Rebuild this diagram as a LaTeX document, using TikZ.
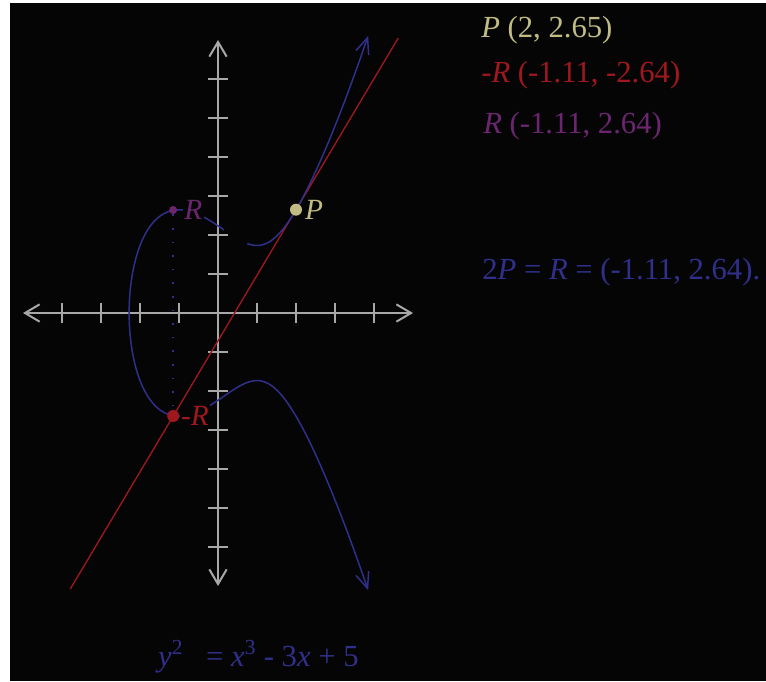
\documentclass[tikz,border=0pt]{standalone}
\usepackage{fontspec}
\setmainfont{Liberation Serif}
\usetikzlibrary{arrows.meta,positioning}

\definecolor{bg}{RGB}{5,5,5}
\definecolor{axisgray}{RGB}{168,168,168}
\definecolor{curveblue}{RGB}{48,48,140}
\definecolor{tanred}{RGB}{158,24,30}
\definecolor{pkhaki}{RGB}{192,188,132}
\definecolor{rpurple}{RGB}{108,38,112}

\tikzset{
	axisline/.style={axisgray, line width=1.5pt
		, {Straight Barb[length=11pt,width=13pt]}-{Straight Barb[length=11pt,width=13pt]}}
	, tickmark/.style={axisgray, line width=1.5pt}
	, ecurve/.style={curveblue, line width=1.1pt}
	, dotpt/.style={circle, fill, inner sep=0pt, minimum size=9pt}
	, info/.style={anchor=west, inner sep=0pt, font=\fontsize{23}{27}\selectfont}
}

\begin{document}
\begin{tikzpicture}[x=29.25pt, y=29.25pt]

\useasboundingbox (-5.590,8.026) rectangle (14.051,-9.436);
\fill[bg] (-5.333,7.949) rectangle (14.051,-9.436);

% axes
\coordinate (xl) at (-5,0);
\coordinate (xr) at (5,0);
\coordinate (yb) at (0,-7);
\coordinate (yt) at (0,7);
\draw[axisline] (xl) -- (xr);
\draw[axisline] (yb) -- (yt);
\foreach \t in {-4,...,-1,1,2,...,4}{
	\draw[tickmark] (\t,-0.26) -- (\t,0.26);
}
\foreach \t in {-6,...,-1,1,2,...,6}{
	\draw[tickmark] (-0.26,\t) -- (0.26,\t);
}

% tangent at P
\coordinate (t1) at (-3.79,-7.08);
\coordinate (t2) at (4.62,7.05);
\draw[tanred, line width=1pt] (t1) -- (t2);

% y^2 = x^3 - 3x + 5
\draw[ecurve, -{Straight Barb[length=12pt,width=10pt]}]
	plot[samples at={0.15,0.1,...,-2.2,-2.23,-2.25,-2.26,-2.27,-2.275,-2.278,-2.279}]
		(\x,{sqrt(max(\x*\x*\x-3*\x+5,0))})
	-- plot[samples at={-2.278,-2.275,-2.27,-2.26,-2.25,-2.23,-2.2,-2.15,...,3.8,3.85}]
		(\x,{-sqrt(max(\x*\x*\x-3*\x+5,0))});
\draw[ecurve, -{Straight Barb[length=12pt,width=10pt]}]
	plot[samples at={0.75,0.8,...,3.8,3.85}] (\x,{sqrt(\x*\x*\x-3*\x+5)});

% points
\node[dotpt, pkhaki] (P) at (2,2.65) {};
\node[dotpt, tanred] (mR) at (-1.15,-2.64) {};
\node[dotpt, rpurple, minimum size=6pt] (R) at (-1.15,2.64) {};
\draw[curveblue, line width=1pt, dash pattern=on 1.2pt off 9pt] (R) -- (mR);

\node[right=2pt of P, pkhaki, inner sep=0pt, font=\fontsize{22}{26}\selectfont\itshape] (Plab) {P};
\node[right=0pt of mR, tanred, fill=bg, inner sep=1pt, font=\fontsize{22}{26}\selectfont] (mRlab) {-\textit{R}};
\node[right=4pt of R, rpurple, fill=bg, inner sep=1pt, font=\fontsize{22}{26}\selectfont\itshape] (Rlab) {R};

% text
\node[info, pkhaki] (Pinfo) at (6.744,7.25) {\textit{P} (2, 2.65)};
\node[info, tanred] (mRinfo) at (6.744,6.1) {-\textit{R} (-1.11, -2.64)};
\node[info, rpurple] (Rinfo) at (6.795,4.8) {\textit{R} (-1.11, 2.64)};
\node[info, curveblue] (sum) at (6.77,1.05) {2\textit{P} = \textit{R} = (-1.11, 2.64).};
\node[info, curveblue] (eqn) at (-1.54,-8.82)
	{\textit{y}\textsuperscript{2}\ \ \ = \textit{x}\textsuperscript{3} - 3\textit{x} + 5};

\end{tikzpicture}
\end{document}
